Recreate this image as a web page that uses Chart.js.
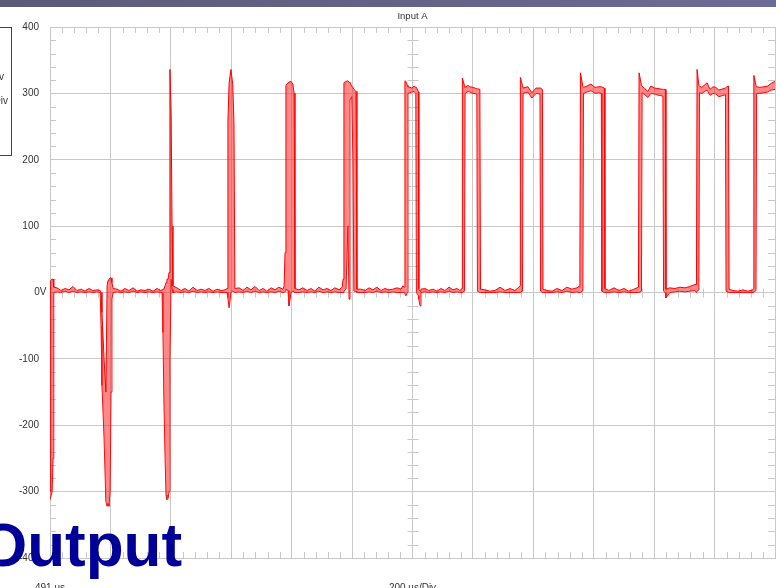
<!DOCTYPE html>
<html>
<head>
<meta charset="utf-8">
<title>Input A</title>
<script src="https://cdn.jsdelivr.net/npm/chart.js@4"></script>
<style>
    html, body { margin: 0; padding: 0; background: #ffffff; }
    #scope { position: absolute; left: 0; top: 0; }
</style>
</head>
<body>
<canvas id="scope" width="776" height="588"></canvas>
<script>
// Peak-detect capture: time (us from left edge) with max / min envelope in volts
const timeUs = [
    0, 2, 7, 10, 12, 13, 23, 36, 50, 63, 76, 89, 103, 116, 129, 142, 156, 166,
    169, 172, 179, 185, 189, 192, 195, 199, 202, 205, 209,
    222, 235, 248, 261, 275, 288, 301, 314, 328, 341, 354, 367,
    371, 374, 377, 381, 384, 387, 391, 394, 397, 401, 404, 407,
    420, 434, 447, 460, 473, 487, 500, 513, 526, 540, 553, 566, 579,
    583, 586, 589, 593, 599, 605, 609, 612,
    626, 639, 652, 665, 679, 692, 705, 718, 732, 745, 758, 771,
    775, 778, 781, 788, 791, 798, 804, 808, 811,
    824, 837, 851, 864, 877, 890, 904, 917, 930, 943, 957, 967,
    970, 973, 980, 986, 990, 993, 999, 1003, 1006, 1013, 1016,
    1029, 1043, 1056, 1069, 1082, 1096, 1109, 1122, 1135, 1149, 1162, 1168,
    1173, 1175, 1178, 1183, 1185, 1198, 1205, 1211, 1213, 1220, 1221, 1225, 1228,
    1241, 1254, 1268, 1281, 1294, 1307, 1321, 1334, 1347, 1357,
    1364, 1365, 1372, 1374, 1384, 1390, 1400, 1413, 1415, 1423, 1425,
    1440, 1456, 1473, 1490, 1506, 1523, 1539, 1552,
    1556, 1557, 1564, 1566, 1582, 1595, 1609, 1622, 1624, 1630, 1632,
    1645, 1662, 1678, 1695, 1711, 1728, 1744, 1751,
    1754, 1756, 1764, 1766, 1777, 1791, 1804, 1817, 1825, 1827, 1835, 1837,
    1850, 1867, 1883, 1900, 1916, 1933, 1943,
    1948, 1950, 1958, 1960, 1969, 1979, 1989, 2002, 2016, 2029, 2031, 2037, 2039,
    2052, 2069, 2085, 2102, 2118, 2135,
    2140, 2142, 2148, 2150, 2158, 2168, 2175, 2185, 2195, 2204, 2214, 2236, 2238, 2246, 2248,
    2261, 2277, 2294, 2310, 2327,
    2329, 2330, 2337, 2339, 2350, 2363, 2376, 2387, 2400
];

const voltsMax = [
    -300, 18, 20, 20, 10, 8, 7, 3, 6, 4, 9, 3, 5, 2, 6, 3, 4, 3,
    0, -30, -100, -150, 10, 18, 20, 22, 22, 15, 6,
    5, 2, 6, 3, 7, 2, 4, 3, 5, 2, 6, 3,
    4, 5, 5, 10, 15, 20, 20, 30, 336, 270, 100, 10,
    7, 3, 6, 2, 8, 3, 5, 3, 6, 2, 5, 3, 4,
    5, 6, 258, 316, 336, 313, 254, 6,
    7, 3, 8, 4, 9, 3, 6, 2, 7, 4, 8, 5,
    10, 60, 312, 316, 317, 318, 314, 300, 6,
    4, 7, 3, 6, 2, 8, 4, 6, 3, 7, 4, 8,
    20, 316, 318, 319, 317, 316, 311, 309, 306, 303, 5,
    5, 3, 7, 4, 8, 3, 6, 4, 5, 7, 5, 10,
    8, 319, 318, 312, 310, 308, 311, 309, 309, 302, 5, 2, 5,
    6, 3, 5, 2, 6, 3, 8, 4, 6, 3,
    6, 323, 312, 309, 312, 310, 309, 307, 307, 306, 5,
    4, 2, 3, 8, 3, 6, 3, 8,
    10, 324, 312, 308, 310, 301, 308, 308, 308, 306, 5,
    3, 2, 6, 3, 8, 5, 7, 9,
    8, 331, 310, 309, 311, 314, 309, 310, 310, 310, 308, 6,
    3, 7, 3, 6, 2, 5, 7,
    8, 331, 312, 311, 307, 303, 311, 308, 307, 306, 306, 306, 5,
    7, 6, 8, 7, 9, 12,
    12, 336, 312, 311, 309, 313, 316, 306, 310, 309, 305, 308, 309, 311, 5,
    3, 2, 4, 2, 4,
    6, 327, 312, 310, 309, 310, 311, 315, 318
];

const voltsMin = [
    -312, -312, -300, -250, -20, 0, 1, 0, 2, 0, 2, 0, 1, 0, 1, 0, 1, 0,
    -50, -140, -220, -315, -322, -318, -322, -300, -150, -10, 0,
    1, 0, 1, 0, 2, 0, 1, 0, 1, 0, 1, 0,
    0, -60, -160, -250, -305, -312, -310, -300, -100, 20, 5, 0,
    1, 0, 1, 0, 2, 0, 1, 0, 1, 0, 1, 0, 0,
    0, 0, -8, -23, 0, 2, 1, 0,
    1, 0, 2, 0, 2, 0, 1, 0, 1, 0, 2, 0,
    0, 2, 5, 3, -20, 0, 2, 1, 0,
    0, 1, 0, 1, 0, 2, 0, 1, 0, 1, 0, 0,
    0, 2, 5, 100, -10, 290, 295, 200, 2, 2, 0,
    0, 0, 1, 0, 2, 0, 1, 0, 1, 0, 0, 0,
    0, 0, -5, 0, 300, 302, 303, 300, 0, -5, -10, -20, 0,
    1, 0, 1, 0, 1, 0, 2, 0, 1, 0,
    0, 0, 2, 300, 303, 302, 300, 299, 2, 0, 0,
    0, 0, 0, 1, 0, 0, 0, 0,
    0, 0, 2, 300, 302, 293, 300, 299, 2, 0, 0,
    0, 0, 1, 0, 2, 0, 1, 0,
    0, 0, 3, 300, 302, 304, 300, 301, 300, 2, 0, 0,
    0, 1, 0, 1, 0, 0, 0,
    0, 0, 2, 301, 298, 294, 300, 299, 297, 296, 2, 0, -8,
    0, 1, 2, 1, 2, 3,
    0, 2, 4, 301, 300, 303, 305, 297, 300, 299, 295, 298, 2, 0, 0,
    0, 0, 0, 0, 0,
    0, 0, 3, 300, 300, 301, 302, 305, 306
];

// 12 divisions of 200 us across, 8 divisions of 100 V up
const timeDivUs = 200;
const timeSpanUs = 2400;
const voltDiv = 100;
const voltRange = 400;

const gridColor = '#c8c8c8';
const traceRed = '#ff0000';
const textColor = '#333333';

Chart.defaults.font.family = 'Arial, "Liberation Sans", sans-serif';

function toPoints(ys) {
    return timeUs.map((t, i) => ({ x: t, y: ys[i] }));
}

function pix(v) {
    return Math.round(v) + 0.5;
}

// Scope furniture: title bar, minor ticks, labels, range box, caption
const scopeDecor = {
    id: 'scopeDecor',
    beforeDraw(chart) {
        const ctx = chart.ctx;
        ctx.save();
        ctx.fillStyle = '#ffffff';
        ctx.fillRect(0, 0, chart.width, chart.height);
        const bar = ctx.createLinearGradient(0, 0, chart.width, 0);
        bar.addColorStop(0, '#5b5b78');
        bar.addColorStop(1, '#6b6b96');
        ctx.fillStyle = bar;
        ctx.fillRect(0, 0, chart.width, 7);
        ctx.restore();
    },
    beforeDatasetsDraw(chart) {
        const { ctx, chartArea: area, scales: { x, y } } = chart;
        const minorT = timeDivUs / 5;
        const minorV = voltDiv / 5;
        const y0 = y.getPixelForValue(0);
        const xc = x.getPixelForValue(timeSpanUs / 2);
        ctx.save();
        ctx.strokeStyle = gridColor;
        ctx.lineWidth = 1;
        ctx.beginPath();
        for (let t = minorT; t < timeSpanUs; t += minorT) {
            if (t % timeDivUs === 0) continue;
            const px = pix(x.getPixelForValue(t));
            ctx.moveTo(px, area.top); ctx.lineTo(px, area.top + 6);
            ctx.moveTo(px, area.bottom); ctx.lineTo(px, area.bottom - 6);
            ctx.moveTo(px, y0 - 4); ctx.lineTo(px, y0 + 5);
        }
        for (let v = -voltRange + minorV; v < voltRange; v += minorV) {
            if (v % voltDiv === 0) continue;
            const py = pix(y.getPixelForValue(v));
            ctx.moveTo(area.left, py); ctx.lineTo(area.left + 6, py);
            ctx.moveTo(area.right, py); ctx.lineTo(area.right - 7, py);
            ctx.moveTo(xc - 5, py); ctx.lineTo(xc + 6, py);
        }
        ctx.stroke();
        ctx.restore();
    },
    afterDraw(chart) {
        const { ctx, scales: { x, y } } = chart;
        ctx.save();
        ctx.fillStyle = textColor;
        ctx.font = '10px Arial, "Liberation Sans", sans-serif';

        ctx.textAlign = 'right';
        ctx.textBaseline = 'middle';
        ctx.fillText('0V', 46.5, y.getPixelForValue(0));

        ctx.textAlign = 'center';
        ctx.font = '9.5px Arial, "Liberation Sans", sans-serif';
        ctx.fillText('Input A', x.getPixelForValue(timeSpanUs / 2), 16);

        ctx.font = '10px Arial, "Liberation Sans", sans-serif';
        ctx.textBaseline = 'alphabetic';
        ctx.fillText('200 us/Div', x.getPixelForValue(timeSpanUs / 2), 591);
        ctx.textAlign = 'left';
        ctx.fillText('491 us', 35, 591);

        // channel range box, mostly off the left edge
        ctx.strokeStyle = '#444444';
        ctx.lineWidth = 1;
        ctx.strokeRect(-1, 27.5, 12.5, 128);
        ctx.textAlign = 'right';
        ctx.textBaseline = 'middle';
        ctx.fillText('400 v', 4, 77);
        ctx.fillText('100 V/Div', 8, 101);

        ctx.fillStyle = '#000099';
        ctx.font = 'bold 62px Arial, "Liberation Sans", sans-serif';
        ctx.textAlign = 'left';
        ctx.textBaseline = 'alphabetic';
        ctx.fillText('Output', -21, 566);
        ctx.restore();
    }
};

const ctx = document.getElementById('scope').getContext('2d');
new Chart(ctx, {
    type: 'line',
    data: {
        datasets: [{
            label: 'max',
            data: toPoints(voltsMax),
            borderColor: traceRed,
            borderWidth: 1,
            backgroundColor: 'rgba(255, 40, 40, 0.55)',
            fill: '+1',
            pointRadius: 0,
            tension: 0,
        }, {
            label: 'min',
            data: toPoints(voltsMin),
            borderColor: traceRed,
            borderWidth: 1,
            fill: false,
            pointRadius: 0,
            tension: 0,
        }]
    },
    options: {
        responsive: false,
        animation: false,
        layout: {
            padding: { top: 27, bottom: 30, left: 0, right: 1 }
        },
        scales: {
            x: {
                type: 'linear',
                min: 0,
                max: timeSpanUs,
                ticks: { display: false, stepSize: timeDivUs },
                grid: { color: gridColor, lineWidth: 1, drawTicks: false },
                border: { color: gridColor },
            },
            y: {
                min: -voltRange,
                max: voltRange,
                afterFit(scale) { scale.width = 50; },
                ticks: {
                    stepSize: voltDiv,
                    padding: 11,
                    color: textColor,
                    font: { size: 10 },
                    callback: (value) => value === 0 ? '' : String(value),
                },
                grid: { color: gridColor, lineWidth: 1, drawTicks: false },
                border: { color: gridColor },
            }
        },
        plugins: {
            legend: { display: false },
            tooltip: { enabled: false },
        }
    },
    plugins: [scopeDecor]
});
</script>
</body>
</html>
